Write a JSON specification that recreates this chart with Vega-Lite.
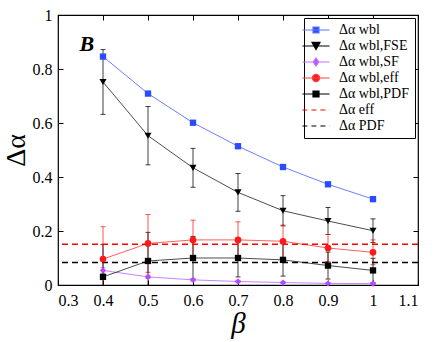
{
  "$schema": "https://vega.github.io/schema/vega-lite/v6.json",
  "width": 360,
  "height": 270,
  "autosize": {"type": "none"},
  "padding": {"left": 58, "top": 15, "right": 18, "bottom": 57},
  "background": "white",
  "datasets": {
    "main": [
      {"series": "Δα wbl", "beta": 0.4, "value": 0.846, "err": 0},
      {"series": "Δα wbl", "beta": 0.5, "value": 0.709, "err": 0},
      {"series": "Δα wbl", "beta": 0.6, "value": 0.601, "err": 0},
      {"series": "Δα wbl", "beta": 0.7, "value": 0.514, "err": 0},
      {"series": "Δα wbl", "beta": 0.8, "value": 0.437, "err": 0},
      {"series": "Δα wbl", "beta": 0.9, "value": 0.373, "err": 0},
      {"series": "Δα wbl", "beta": 1.0, "value": 0.318, "err": 0},
      {"series": "Δα wbl,FSE", "beta": 0.4, "value": 0.752, "err": 0.12},
      {"series": "Δα wbl,FSE", "beta": 0.5, "value": 0.553, "err": 0.108},
      {"series": "Δα wbl,FSE", "beta": 0.6, "value": 0.434, "err": 0.072},
      {"series": "Δα wbl,FSE", "beta": 0.7, "value": 0.343, "err": 0.07},
      {"series": "Δα wbl,FSE", "beta": 0.8, "value": 0.275, "err": 0.056},
      {"series": "Δα wbl,FSE", "beta": 0.9, "value": 0.237, "err": 0.05},
      {"series": "Δα wbl,FSE", "beta": 1.0, "value": 0.201, "err": 0.044},
      {"series": "Δα wbl,SF", "beta": 0.4, "value": 0.054, "err": 0.01},
      {"series": "Δα wbl,SF", "beta": 0.5, "value": 0.03, "err": 0.006},
      {"series": "Δα wbl,SF", "beta": 0.6, "value": 0.019, "err": 0.005},
      {"series": "Δα wbl,SF", "beta": 0.7, "value": 0.013, "err": 0.004},
      {"series": "Δα wbl,SF", "beta": 0.8, "value": 0.009, "err": 0.003},
      {"series": "Δα wbl,SF", "beta": 0.9, "value": 0.006, "err": 0.003},
      {"series": "Δα wbl,SF", "beta": 1.0, "value": 0.005, "err": 0.003},
      {"series": "Δα wbl,eff", "beta": 0.4, "value": 0.096, "err": 0.12},
      {"series": "Δα wbl,eff", "beta": 0.5, "value": 0.154, "err": 0.107},
      {"series": "Δα wbl,eff", "beta": 0.6, "value": 0.167, "err": 0.073},
      {"series": "Δα wbl,eff", "beta": 0.7, "value": 0.167, "err": 0.067},
      {"series": "Δα wbl,eff", "beta": 0.8, "value": 0.162, "err": 0.06},
      {"series": "Δα wbl,eff", "beta": 0.9, "value": 0.137, "err": 0.05},
      {"series": "Δα wbl,eff", "beta": 1.0, "value": 0.121, "err": 0.046},
      {"series": "Δα wbl,PDF", "beta": 0.4, "value": 0.03, "err": 0.12},
      {"series": "Δα wbl,PDF", "beta": 0.5, "value": 0.089, "err": 0.106},
      {"series": "Δα wbl,PDF", "beta": 0.6, "value": 0.1, "err": 0.08},
      {"series": "Δα wbl,PDF", "beta": 0.7, "value": 0.1, "err": 0.07},
      {"series": "Δα wbl,PDF", "beta": 0.8, "value": 0.093, "err": 0.06},
      {"series": "Δα wbl,PDF", "beta": 0.9, "value": 0.072, "err": 0.05},
      {"series": "Δα wbl,PDF", "beta": 1.0, "value": 0.054, "err": 0.045}
    ],
    "hl": [
      {"series": "Δα eff", "value": 0.151},
      {"series": "Δα PDF", "value": 0.083}
    ],
    "lab": [{"t": "B"}]
  },
  "layer": [
    {
      "data": {"name": "main"},
      "layer": [
        {
          "transform": [{"filter": "datum.err > 0"}],
          "mark": {"type": "errorbar", "ticks": true, "clip": true, "opacity": 0.75},
          "encoding": {
            "x": {
              "field": "beta", "type": "quantitative", "title": "β",
              "scale": {"domain": [0.3, 1.1], "nice": false, "zero": false},
              "axis": {
                "values": [0.3, 0.4, 0.5, 0.6, 0.7, 0.8, 0.9, 1.0, 1.1],
                "format": "~g", "titleFontSize": 29,
                "titleFontStyle": "italic", "titleFontWeight": "normal",
                "labelPadding": 12, "titlePadding": 1, "labelOverlap": false
              }
            },
            "y": {
              "field": "value", "type": "quantitative", "title": "Δα",
              "scale": {"domain": [0, 1], "nice": false},
              "axis": {
                "values": [0, 0.2, 0.4, 0.6, 0.8, 1],
                "format": "~g", "titleFontSize": 28,
                "titleFontWeight": "normal", "labelPadding": 11, "titlePadding": 2, "labelOverlap": false
              }
            },
            "yError": {"field": "err"},
            "color": {
              "field": "series", "type": "nominal",
              "scale": {
                "domain": ["Δα PDF", "Δα eff", "Δα wbl,PDF", "Δα wbl,eff", "Δα wbl,SF", "Δα wbl,FSE", "Δα wbl"],
                "range": ["#000000", "#ff0000", "#000000", "#ff1a1a", "#b44cff", "#000000", "#2a4bff"]
              },
              "legend": null
            }
          }
        },
        {
          "mark": {"type": "line", "strokeWidth": 1, "opacity": 0.7},
          "encoding": {
            "x": {"field": "beta", "type": "quantitative", "title": "β"},
            "y": {"field": "value", "type": "quantitative", "title": "Δα"},
            "color": {"field": "series", "type": "nominal", "legend": null}
          }
        },
        {
          "data": {"name": "hl"},
          "mark": {"type": "rule", "strokeDash": [6, 4], "strokeWidth": 1.5},
          "encoding": {
            "y": {"field": "value", "type": "quantitative", "title": "Δα"},
            "color": {"field": "series", "type": "nominal", "legend": null}
          }
        },
        {
          "transform": [{"filter": "datum.series === 'Δα wbl' || datum.series === 'Δα wbl,PDF'"}],
          "mark": {"type": "point", "filled": true, "opacity": 1, "size": 40, "shape": "square"},
          "encoding": {
            "x": {"field": "beta", "type": "quantitative", "title": "β"},
            "y": {"field": "value", "type": "quantitative", "title": "Δα"},
            "color": {"field": "series", "type": "nominal", "legend": null}
          }
        },
        {
          "transform": [{"filter": "datum.series === 'Δα wbl,FSE'"}],
          "mark": {"type": "point", "filled": true, "opacity": 1, "size": 50, "shape": "triangle-down"},
          "encoding": {
            "x": {"field": "beta", "type": "quantitative", "title": "β"},
            "y": {"field": "value", "type": "quantitative", "title": "Δα"},
            "color": {"field": "series", "type": "nominal", "legend": null}
          }
        },
        {
          "transform": [{"filter": "datum.series === 'Δα wbl,SF'"}],
          "mark": {"type": "point", "filled": true, "opacity": 1, "size": 40, "shape": "diamond"},
          "encoding": {
            "x": {"field": "beta", "type": "quantitative", "title": "β"},
            "y": {"field": "value", "type": "quantitative", "title": "Δα"},
            "color": {"field": "series", "type": "nominal", "legend": null}
          }
        },
        {
          "transform": [{"filter": "datum.series === 'Δα wbl,eff'"}],
          "mark": {"type": "point", "filled": true, "opacity": 1, "size": 45, "shape": "circle"},
          "encoding": {
            "x": {"field": "beta", "type": "quantitative", "title": "β"},
            "y": {"field": "value", "type": "quantitative", "title": "Δα"},
            "color": {"field": "series", "type": "nominal", "legend": null}
          }
        }
      ]
    },
    {
      "data": {"name": "main"},
      "mark": {"type": "point", "filled": true, "opacity": 0, "size": 64},
      "encoding": {
        "x": {"field": "beta", "type": "quantitative", "axis": null},
        "y": {"field": "value", "type": "quantitative", "axis": null},
        "fill": {
          "field": "series", "type": "nominal",
          "scale": {
            "domain": ["Δα wbl", "Δα wbl,FSE", "Δα wbl,SF", "Δα wbl,eff", "Δα wbl,PDF", "Δα eff", "Δα PDF"],
            "range": ["#2a4bff", "#000000", "#b44cff", "#ff1a1a", "#000000", "#ff0000", "#000000"]
          },
          "legend": {
            "title": null, "orient": "top-right", "offset": 3, "padding": 5,
            "strokeColor": "black", "fillColor": "white",
            "labelFont": "Liberation Serif", "labelFontSize": 14, "labelColor": "black",
            "labelOffset": 16, "symbolSize": 64, "rowPadding": 2,
            "symbolOpacity": 1, "symbolStrokeWidth": 1.2
          }
        },
        "stroke": {
          "field": "series", "type": "nominal",
          "scale": {
            "domain": ["Δα wbl", "Δα wbl,FSE", "Δα wbl,SF", "Δα wbl,eff", "Δα wbl,PDF", "Δα eff", "Δα PDF"],
            "range": ["#5a78ff", "#000000", "#c070ff", "#ff4040", "#000000", "#ff0000", "#000000"]
          },
          "legend": {
            "title": null, "orient": "top-right", "offset": 3, "padding": 5,
            "strokeColor": "black", "fillColor": "white",
            "labelFont": "Liberation Serif", "labelFontSize": 14, "labelColor": "black",
            "labelOffset": 16, "symbolSize": 64, "rowPadding": 2,
            "symbolOpacity": 1, "symbolStrokeWidth": 1.2
          }
        },
        "shape": {
          "field": "series", "type": "nominal",
          "scale": {
            "domain": ["Δα wbl", "Δα wbl,FSE", "Δα wbl,SF", "Δα wbl,eff", "Δα wbl,PDF", "Δα eff", "Δα PDF"],
            "range": [
              "M-3.4,0H3.4M-0.75,-0.75H0.75V0.75H-0.75Z",
              "M-3.4,0H3.4M-1,-0.9H1L0,0.9Z",
              "M-3.4,0H3.4M0,-1L0.7,0L0,1L-0.7,0Z",
              "M-3.4,0H3.4M-0.9,0A0.9,0.9 0 1,0 0.9,0A0.9,0.9 0 1,0 -0.9,0Z",
              "M-3.4,0H3.4M-0.75,-0.75H0.75V0.75H-0.75Z",
              "M-3.4,0H-2.15M-1.15,0H0.1M1.1,0H2.35M3.35,0H3.4",
              "M-3.4,0H-2.15M-1.15,0H0.1M1.1,0H2.35M3.35,0H3.4"
            ]
          },
          "legend": {
            "title": null, "orient": "top-right", "offset": 3, "padding": 5,
            "strokeColor": "black", "fillColor": "white",
            "labelFont": "Liberation Serif", "labelFontSize": 14, "labelColor": "black",
            "labelOffset": 16, "symbolSize": 64, "rowPadding": 2,
            "symbolOpacity": 1, "symbolStrokeWidth": 1.2
          }
        }
      }
    },
    {
      "data": {"name": "lab"},
      "mark": {"type": "text", "font": "Liberation Serif", "fontSize": 22, "fontWeight": "bold", "fontStyle": "italic", "color": "black"},
      "encoding": {
        "text": {"field": "t"},
        "x": {"datum": 0.364, "type": "quantitative", "axis": {"orient": "top", "labels": false, "title": null, "values": [0.3, 0.4, 0.5, 0.6, 0.7, 0.8, 0.9, 1.0, 1.1]}},
        "y": {"datum": 0.893, "type": "quantitative", "axis": {"orient": "right", "labels": false, "title": null, "values": [0, 0.2, 0.4, 0.6, 0.8, 1]}}
      }
    }
  ],
  "resolve": {"axis": {"x": "independent", "y": "independent"}},
  "config": {
    "view": {"stroke": "black", "strokeWidth": 1.2},
    "axis": {
      "grid": false,
      "domain": false,
      "tickSize": -5,
      "tickColor": "black",
      "labelFont": "Liberation Serif",
      "labelFontSize": 16,
      "labelColor": "black",
      "titleFont": "Liberation Serif",
      "titleColor": "black"
    }
  }
}
